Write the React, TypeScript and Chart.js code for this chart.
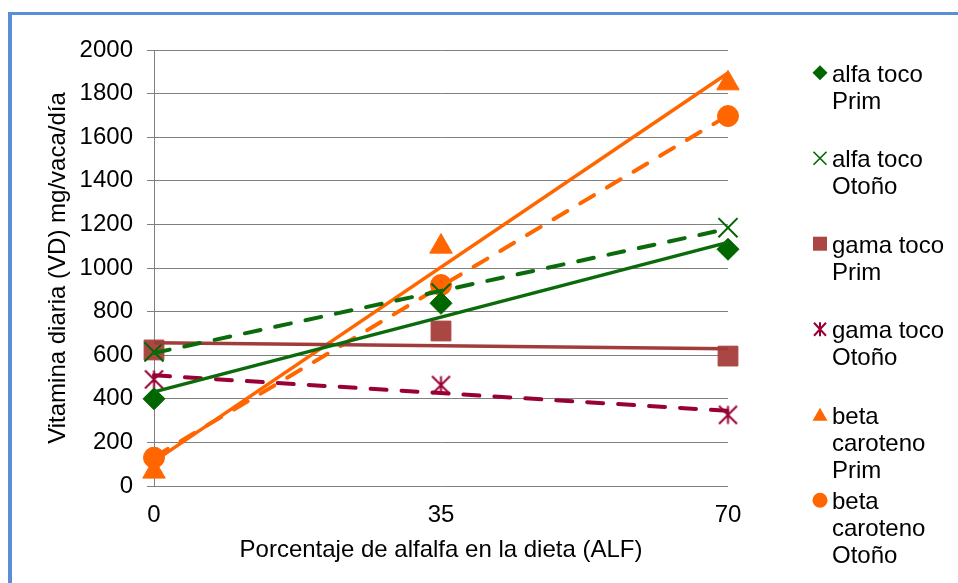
import React, { useEffect, useRef } from 'react';
import { Chart, registerables } from 'chart.js';

Chart.register(...registerables);

// ---- data ----
const xValues = [0, 35, 70];
const xTickValues = [0, 35, 70];
const yMin = 0;
const yMax = 2000;
const yStep = 200;

const alfaTocoPrim = [400, 838, 1086];
const alfaTocoOtono = [615, 885, 1185];
const gamaTocoPrim = [624, 711, 596];
const gamaTocoOtono = [489, 463, 326];
const betaCarotenoPrim = [66, 1098, 1847];
const betaCarotenoOtono = [130, 922, 1697];

const seriesLabels = [
  ['alfa toco', 'Prim'],
  ['alfa toco', 'Otoño'],
  ['gama toco', 'Prim'],
  ['gama toco', 'Otoño'],
  ['beta', 'caroteno', 'Prim'],
  ['beta', 'caroteno', 'Otoño'],
];

const xTitle = 'Porcentaje de alfalfa en la dieta (ALF)';
const yTitle = 'Vitamina diaria (VD) mg/vaca/día';

// ---- styling ----
const FONT = '"Liberation Sans", Arial, sans-serif';
const GREEN = '#006600';
const GREEN_LINE = '#0b6b0b';
const BROWN = '#aa4643';
const BROWN_LINE = '#a03c3a';
const CRIMSON = '#990033';
const ORANGE = '#ff6600';
const GRID = '#7f7f7f';

type MarkerKind = 'diamond' | 'x' | 'square' | 'star' | 'triangle' | 'circle';

const seriesValues = [alfaTocoPrim, alfaTocoOtono, gamaTocoPrim, gamaTocoOtono, betaCarotenoPrim, betaCarotenoOtono];
const seriesMarkers: MarkerKind[] = ['diamond', 'x', 'square', 'star', 'triangle', 'circle'];
const seriesColors = [GREEN, GREEN, BROWN, CRIMSON, ORANGE, ORANGE];
const trendColors = [GREEN_LINE, GREEN_LINE, BROWN_LINE, CRIMSON, ORANGE, ORANGE];
const trendDashed = [false, true, false, true, false, true];

function linearFit(xs: number[], ys: number[]) {
  const n = xs.length;
  const mx = xs.reduce((a, b) => a + b, 0) / n;
  const my = ys.reduce((a, b) => a + b, 0) / n;
  let sxy = 0;
  let sxx = 0;
  for (let i = 0; i < n; i++) {
    sxy += (xs[i] - mx) * (ys[i] - my);
    sxx += (xs[i] - mx) * (xs[i] - mx);
  }
  const b = sxy / sxx;
  const a = my - b * mx;
  return (x: number) => a + b * x;
}

function makeStarCanvas(size: number, color: string, lw: number) {
  const c = document.createElement('canvas');
  c.width = size;
  c.height = size;
  const ctx = c.getContext('2d')!;
  ctx.strokeStyle = color;
  ctx.lineWidth = lw;
  const m = size / 2;
  const r = size / 2 - 1.5;
  ctx.beginPath();
  ctx.moveTo(m - r, m - r);
  ctx.lineTo(m + r, m + r);
  ctx.moveTo(m + r, m - r);
  ctx.lineTo(m - r, m + r);
  ctx.moveTo(m, m - r);
  ctx.lineTo(m, m + r);
  ctx.stroke();
  return c;
}

function drawLegendMarker(ctx: CanvasRenderingContext2D, kind: MarkerKind, x: number, y: number, color: string) {
  ctx.save();
  ctx.fillStyle = color;
  ctx.strokeStyle = color;
  ctx.lineWidth = 1.6;
  ctx.beginPath();
  switch (kind) {
    case 'diamond':
      ctx.moveTo(x, y - 7.5);
      ctx.lineTo(x + 7.5, y);
      ctx.lineTo(x, y + 7.5);
      ctx.lineTo(x - 7.5, y);
      ctx.closePath();
      ctx.fill();
      break;
    case 'square':
      ctx.rect(x - 7, y - 7, 14, 14);
      ctx.fill();
      break;
    case 'circle':
      ctx.arc(x, y, 7.5, 0, Math.PI * 2);
      ctx.fill();
      break;
    case 'triangle':
      ctx.moveTo(x, y - 7);
      ctx.lineTo(x + 7.5, y + 6);
      ctx.lineTo(x - 7.5, y + 6);
      ctx.closePath();
      ctx.fill();
      break;
    case 'x':
      ctx.moveTo(x - 6.5, y - 6.5);
      ctx.lineTo(x + 6.5, y + 6.5);
      ctx.moveTo(x + 6.5, y - 6.5);
      ctx.lineTo(x - 6.5, y + 6.5);
      ctx.stroke();
      break;
    case 'star':
      ctx.lineWidth = 2;
      ctx.moveTo(x - 6, y - 6.5);
      ctx.lineTo(x + 6, y + 6.5);
      ctx.moveTo(x + 6, y - 6.5);
      ctx.lineTo(x - 6, y + 6.5);
      ctx.moveTo(x, y - 7);
      ctx.lineTo(x, y + 7);
      ctx.stroke();
      break;
  }
  ctx.restore();
}

const legendPlugin = {
  id: 'multilineLegend',
  afterDraw(chart: any) {
    const ctx: CanvasRenderingContext2D = chart.ctx;
    const area = chart.chartArea;
    ctx.save();
    ctx.font = `24px ${FONT}`;
    ctx.fillStyle = '#000000';
    ctx.textAlign = 'left';
    ctx.textBaseline = 'alphabetic';
    seriesLabels.forEach((lines, i) => {
      const base = area.top + 31.7 + i * 85.5;
      drawLegendMarker(ctx, seriesMarkers[i], area.right + 92, base - 9, seriesColors[i]);
      lines.forEach((line, k) => {
        ctx.fillText(line, area.right + 104, base + k * 27);
      });
    });
    ctx.restore();
  },
};

export default function App() {
  const canvasRef = useRef<HTMLCanvasElement | null>(null);

  useEffect(() => {
    if (!canvasRef.current) return;
    const star = makeStarCanvas(21, CRIMSON, 2);

    const pointStyles: any[] = ['rectRot', 'crossRot', 'rect', star, 'triangle', 'circle'];
    const pointRadii = [11, 13.5, 14, 10, 13, 10.5];

    const markerSets = seriesValues.map((vals, i) => ({
      label: seriesLabels[i].join(' '),
      data: xValues.map((x, j) => ({ x, y: vals[j] })),
      showLine: false,
      pointStyle: pointStyles[i],
      pointRadius: pointRadii[i],
      pointHoverRadius: pointRadii[i],
      backgroundColor: seriesColors[i],
      borderColor: seriesColors[i],
      pointBorderWidth: seriesMarkers[i] === 'x' ? 2 : 1,
      clip: false,
      order: 1,
    }));

    const trendSets = seriesValues.map((vals, i) => {
      const f = linearFit(xValues, vals);
      const x0 = xValues[0];
      const x1 = xValues[xValues.length - 1];
      return {
        label: 'trend ' + seriesLabels[i].join(' '),
        data: [
          { x: x0, y: f(x0) },
          { x: x1, y: f(x1) },
        ],
        showLine: true,
        pointRadius: 0,
        pointHoverRadius: 0,
        borderColor: trendColors[i],
        backgroundColor: trendColors[i],
        borderWidth: trendDashed[i] ? 4 : 3.5,
        borderDash: trendDashed[i] ? [16, 15] : [],
        borderCapStyle: trendDashed[i] ? 'round' : 'butt',
        clip: false,
        order: 0,
      };
    });

    const chart = new Chart(canvasRef.current, {
      type: 'scatter',
      data: { datasets: [...markerSets, ...trendSets] as any },
      plugins: [legendPlugin],
      options: {
        animation: false,
        responsive: false,
        maintainAspectRatio: false,
        layout: { padding: { left: 0, top: 50, right: 230, bottom: 0 } },
        plugins: {
          legend: { display: false },
          tooltip: { enabled: false },
          title: { display: false },
        },
        scales: {
          x: {
            type: 'linear',
            min: xTickValues[0],
            max: xTickValues[xTickValues.length - 1],
            afterBuildTicks: (scale: any) => {
              scale.ticks = xTickValues.map((v) => ({ value: v }));
            },
            afterFit: (scale: any) => {
              scale.height = 97;
            },
            grid: { display: false, drawTicks: false },
            border: { display: false },
            ticks: {
              color: '#000000',
              font: { family: FONT, size: 24 },
              padding: 15,
              maxRotation: 0,
              callback: (v: any) => String(v),
            },
            title: {
              display: true,
              text: xTitle,
              color: '#000000',
              font: { family: FONT, size: 24 },
              padding: { top: 0, bottom: 18 },
            },
          },
          y: {
            type: 'linear',
            min: yMin,
            max: yMax,
            afterFit: (scale: any) => {
              scale.width = 154;
            },
            ticks: {
              stepSize: yStep,
              color: '#000000',
              font: { family: FONT, size: 24 },
              padding: 14,
              callback: (v: any) => String(v),
            },
            grid: { color: GRID, lineWidth: 1, tickLength: 7, drawTicks: true },
            border: { display: true, color: GRID, width: 1 },
            title: {
              display: true,
              text: yTitle,
              color: '#000000',
              font: { family: FONT, size: 24 },
              padding: { top: 44, bottom: 0 },
            },
          },
        },
      } as any,
    });

    return () => {
      chart.destroy();
    };
  }, []);

  return (
    <div
      style={{
        position: 'absolute',
        left: 0,
        top: 0,
        width: 958,
        height: 583,
        overflow: 'hidden',
        background: '#ffffff',
      }}
    >
      <div
        style={{
          position: 'absolute',
          left: 8,
          top: 12,
          width: 1200,
          height: 1200,
          borderLeft: '4px solid #5b8ed8',
          borderTop: '3px solid #5b8ed8',
          boxSizing: 'border-box',
        }}
      />
      <canvas ref={canvasRef} width={958} height={583} style={{ position: 'absolute', left: 0, top: 0 }} />
    </div>
  );
}
